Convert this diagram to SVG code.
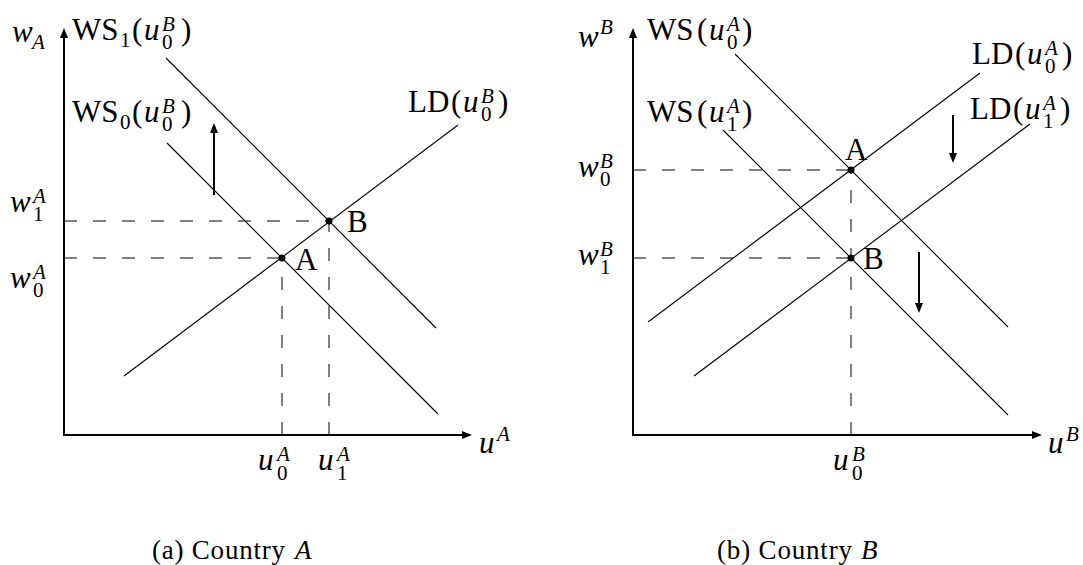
<svg xmlns="http://www.w3.org/2000/svg" width="1083" height="565" viewBox="0 0 1083 565">
<style>
text{font-family:"Liberation Serif","Times New Roman",serif;fill:#000}
.m{font-size:31px}
.s{font-size:21px}
.i{font-style:italic}
.cap{font-size:27px}
.ax{stroke:#000;stroke-width:2;fill:none}
.ln{stroke:#000;stroke-width:1.1;fill:none}
.da{stroke:#000;stroke-width:1;stroke-dasharray:13 16;fill:none}
.sh{stroke:#000;stroke-width:2;fill:none}
.dot{fill:#000}
</style>
<defs>
<marker id="ah" viewBox="0 0 10 8" refX="6" refY="4" markerWidth="10" markerHeight="8" markerUnits="userSpaceOnUse" orient="auto"><path d="M0,0 L10,4 L0,8 z" fill="#000"/></marker>
</defs>
<rect width="1083" height="565" fill="#fff"/>

<g id="connectors">
  <!-- panel A -->
  <path class="ax" d="M64,436 V32" marker-end="url(#ah)"/>
  <path class="ax" d="M63,435 H468" marker-end="url(#ah)"/>
  <path class="ln" d="M166,58 L436,328"/>
  <path class="ln" d="M167,143 L438,414"/>
  <path class="ln" d="M124,376 L458,125"/>
  <path class="da" d="M64,258 H282"/>
  <path class="da" d="M64,221 H329"/>
  <path class="da" d="M282,435 V258"/>
  <path class="da" d="M329,435 V221"/>
  <path class="sh" d="M214,195 V127" marker-end="url(#ah)"/>
  <!-- panel B -->
  <path class="ax" d="M633,436 V32" marker-end="url(#ah)"/>
  <path class="ax" d="M632,435 H1038" marker-end="url(#ah)"/>
  <path class="ln" d="M735,54 L1008,327"/>
  <path class="ln" d="M723,130 L1008,415"/>
  <path class="ln" d="M648,322 L980,73"/>
  <path class="ln" d="M694,376 L1030,124"/>
  <path class="da" d="M633,170 H851"/>
  <path class="da" d="M633,258 H851"/>
  <path class="da" d="M851,435 V170"/>
  <path class="sh" d="M953,115 V159" marker-end="url(#ah)"/>
  <path class="sh" d="M919,252 V309" marker-end="url(#ah)"/>
</g>

<!-- Panel A nodes -->
<g id="a-axis-w">
  <text class="m"><tspan class="i" x="12" y="42">w</tspan><tspan class="s i" x="32" y="49">A</tspan></text>
</g>
<g id="a-ws1">
  <text class="m"><tspan x="72" y="40">WS</tspan><tspan class="s" x="120" y="47">1</tspan><tspan x="132" y="40">(</tspan><tspan class="i" x="144" y="40">u</tspan><tspan class="s i" x="162" y="31">B</tspan><tspan class="s" x="162" y="49">0</tspan><tspan x="181" y="40">)</tspan></text>
</g>
<g id="a-ws0">
  <text class="m"><tspan x="72" y="122">WS</tspan><tspan class="s" x="120" y="129">0</tspan><tspan x="132" y="122">(</tspan><tspan class="i" x="144" y="122">u</tspan><tspan class="s i" x="162" y="113">B</tspan><tspan class="s" x="162" y="131">0</tspan><tspan x="181" y="122">)</tspan></text>
</g>
<g id="a-ld">
  <text class="m"><tspan x="408" y="112">LD</tspan><tspan x="451" y="112">(</tspan><tspan class="i" x="463" y="112">u</tspan><tspan class="s i" x="481" y="103">B</tspan><tspan class="s" x="481" y="121">0</tspan><tspan x="498" y="112">)</tspan></text>
</g>
<g id="a-w1">
  <text class="m"><tspan class="i" x="10" y="212">w</tspan><tspan class="s i" x="33" y="203">A</tspan><tspan class="s" x="33" y="221">1</tspan></text>
</g>
<g id="a-w0">
  <text class="m"><tspan class="i" x="10" y="288">w</tspan><tspan class="s i" x="33" y="279">A</tspan><tspan class="s" x="33" y="297">0</tspan></text>
</g>
<g id="a-pointA">
  <circle class="dot" cx="282" cy="258" r="3.5"/>
  <text class="m" x="295" y="270">A</text>
</g>
<g id="a-pointB">
  <circle class="dot" cx="329" cy="221" r="3.5"/>
  <text class="m" x="347" y="232">B</text>
</g>
<g id="a-u0">
  <text class="m"><tspan class="i" x="258" y="470">u</tspan><tspan class="s i" x="277" y="461">A</tspan><tspan class="s" x="277" y="480">0</tspan></text>
</g>
<g id="a-u1">
  <text class="m"><tspan class="i" x="318" y="470">u</tspan><tspan class="s i" x="337" y="461">A</tspan><tspan class="s" x="337" y="480">1</tspan></text>
</g>
<g id="a-axis-u">
  <text class="m"><tspan class="i" x="479" y="453">u</tspan><tspan class="s i" x="497" y="441">A</tspan></text>
</g>
<g id="caption-a">
  <text class="cap"><tspan x="152" y="559" textLength="133" lengthAdjust="spacing">(a) Country</tspan><tspan class="i" x="295" y="559">A</tspan></text>
</g>

<!-- Panel B nodes -->
<g id="b-axis-w">
  <text class="m"><tspan class="i" x="578" y="47">w</tspan><tspan class="s i" x="600" y="34">B</tspan></text>
</g>
<g id="b-ws0">
  <text class="m"><tspan x="647" y="40">WS</tspan><tspan x="697" y="40">(</tspan><tspan class="i" x="709" y="40">u</tspan><tspan class="s i" x="727" y="31">A</tspan><tspan class="s" x="727" y="49">0</tspan><tspan x="742" y="40">)</tspan></text>
</g>
<g id="b-ws1">
  <text class="m"><tspan x="647" y="122">WS</tspan><tspan x="697" y="122">(</tspan><tspan class="i" x="709" y="122">u</tspan><tspan class="s i" x="727" y="113">A</tspan><tspan class="s" x="727" y="131">1</tspan><tspan x="742" y="122">)</tspan></text>
</g>
<g id="b-ld0">
  <text class="m"><tspan x="972" y="64">LD</tspan><tspan x="1015" y="64">(</tspan><tspan class="i" x="1027" y="64">u</tspan><tspan class="s i" x="1045" y="55">A</tspan><tspan class="s" x="1045" y="73">0</tspan><tspan x="1062" y="64">)</tspan></text>
</g>
<g id="b-ld1">
  <text class="m"><tspan x="970" y="119">LD</tspan><tspan x="1013" y="119">(</tspan><tspan class="i" x="1025" y="119">u</tspan><tspan class="s i" x="1043" y="110">A</tspan><tspan class="s" x="1043" y="128">1</tspan><tspan x="1060" y="119">)</tspan></text>
</g>
<g id="b-w0">
  <text class="m"><tspan class="i" x="578" y="177">w</tspan><tspan class="s i" x="600" y="168">B</tspan><tspan class="s" x="600" y="186">0</tspan></text>
</g>
<g id="b-w1">
  <text class="m"><tspan class="i" x="578" y="265">w</tspan><tspan class="s i" x="600" y="256">B</tspan><tspan class="s" x="600" y="274">1</tspan></text>
</g>
<g id="b-pointA">
  <circle class="dot" cx="851" cy="170" r="3.5"/>
  <text class="m" x="845" y="160">A</text>
</g>
<g id="b-pointB">
  <circle class="dot" cx="851" cy="258" r="3.5"/>
  <text class="m" x="863" y="269">B</text>
</g>
<g id="b-u0">
  <text class="m"><tspan class="i" x="833" y="470">u</tspan><tspan class="s i" x="852" y="461">B</tspan><tspan class="s" x="852" y="480">0</tspan></text>
</g>
<g id="b-axis-u">
  <text class="m"><tspan class="i" x="1048" y="453">u</tspan><tspan class="s i" x="1066" y="441">B</tspan></text>
</g>
<g id="caption-b">
  <text class="cap"><tspan x="717" y="559" textLength="135" lengthAdjust="spacing">(b) Country</tspan><tspan class="i" x="861" y="559">B</tspan></text>
</g>
</svg>
